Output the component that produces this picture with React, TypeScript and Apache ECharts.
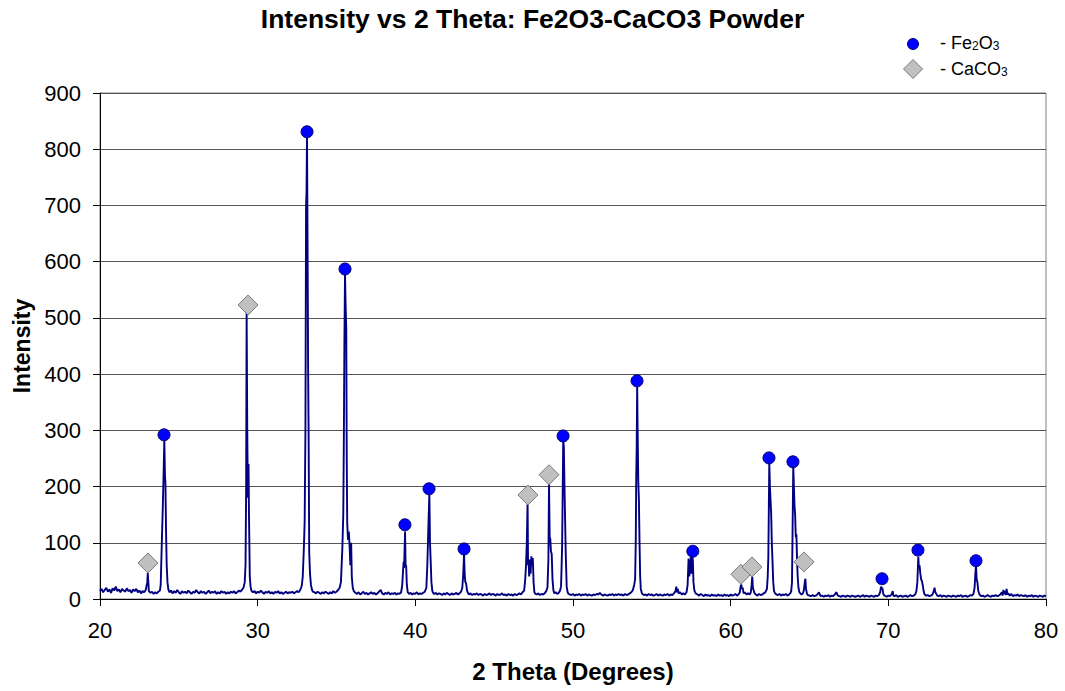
import React, { useEffect, useRef } from "react";
import * as echarts from "echarts";

// ---- Data (2θ in degrees, intensity) ----
const seg20to24: number[][] = [
  [20.0, 14], [20.1, 18], [20.2, 12], [20.3, 16], [20.4, 20], [20.5, 13], [20.6, 17], [20.7, 11], [20.8, 19], [20.9, 15],
  [21.0, 22], [21.1, 14], [21.2, 17], [21.3, 12], [21.4, 18], [21.5, 15], [21.6, 13], [21.7, 19], [21.8, 14], [21.9, 16],
  [22.0, 11], [22.1, 17], [22.2, 14], [22.3, 18], [22.4, 12], [22.5, 15], [22.6, 10], [22.7, 14], [22.8, 12], [22.9, 16],
  [23.0, 30], [23.03, 46], [23.07, 28], [23.1, 14], [23.2, 11], [23.3, 13], [23.4, 9], [23.5, 12], [23.6, 10], [23.7, 13],
  [23.8, 15], [23.85, 25], [23.92, 100], [23.98, 160], [24.04, 230], [24.08, 283], [24.12, 220], [24.15, 206], [24.19, 120],
  [24.23, 60], [24.28, 30], [24.33, 18], [24.4, 12],
];
const seg24to30: number[][] = [
  [24.5, 15], [24.6, 10], [24.7, 14], [24.8, 11], [24.9, 16], [25.0, 12], [25.1, 9], [25.2, 14], [25.3, 11], [25.4, 13],
  [25.5, 10], [25.6, 15], [25.7, 12], [25.8, 9], [25.9, 13], [26.0, 11], [26.1, 16], [26.2, 12], [26.3, 10], [26.4, 14],
  [26.5, 11], [26.6, 13], [26.7, 9], [26.8, 12], [26.9, 15], [27.0, 10], [27.1, 13], [27.2, 11], [27.3, 14], [27.4, 9],
  [27.5, 12], [27.6, 10], [27.7, 14], [27.8, 11], [27.9, 13], [28.0, 9], [28.1, 12], [28.2, 10], [28.3, 13], [28.4, 11],
  [28.5, 14], [28.6, 10], [28.7, 12], [28.8, 15], [28.9, 13], [29.0, 16], [29.1, 20], [29.18, 30], [29.23, 60], [29.27, 200],
  [29.3, 512], [29.34, 300], [29.38, 180], [29.42, 240], [29.45, 150], [29.5, 40], [29.55, 22], [29.6, 15],
];
const seg30to36: number[][] = [
  [29.7, 12], [29.8, 14], [29.9, 10], [30.0, 13], [30.1, 11], [30.2, 15], [30.3, 12], [30.4, 9], [30.5, 13], [30.6, 11],
  [30.7, 14], [30.8, 10], [30.9, 12], [31.0, 9], [31.1, 13], [31.2, 11], [31.3, 14], [31.4, 10], [31.5, 12], [31.6, 9],
  [31.7, 11], [31.8, 13], [31.9, 10], [32.0, 12], [32.1, 11], [32.2, 13], [32.3, 10], [32.4, 12], [32.5, 14], [32.6, 12],
  [32.7, 16], [32.8, 24], [32.86, 40], [32.93, 90], [32.98, 137], [33.03, 300], [33.07, 700], [33.1, 725], [33.13, 822],
  [33.17, 600], [33.2, 410], [33.23, 300], [33.27, 82], [33.32, 45], [33.38, 25], [33.45, 16], [33.5, 13],
  [33.6, 12], [33.7, 10], [33.8, 13], [33.9, 11], [34.0, 9], [34.1, 12], [34.2, 10], [34.3, 13], [34.4, 11], [34.5, 9],
  [34.6, 12], [34.7, 10], [34.8, 14], [34.9, 11], [35.0, 13], [35.1, 16], [35.2, 20], [35.28, 30], [35.37, 89], [35.43, 150],
  [35.47, 300], [35.5, 450], [35.54, 578], [35.58, 520], [35.62, 480], [35.65, 250], [35.68, 135], [35.73, 105], [35.78, 120],
  [35.83, 95], [35.88, 60], [35.93, 100], [35.97, 40], [36.03, 20], [36.1, 14],
];
const seg36to43: number[][] = [
  [36.2, 11], [36.3, 9], [36.4, 12], [36.5, 8], [36.6, 10], [36.7, 13], [36.8, 9], [36.9, 11], [37.0, 8], [37.1, 10],
  [37.2, 12], [37.3, 9], [37.4, 11], [37.5, 8], [37.6, 10], [37.7, 13], [37.8, 16], [37.9, 10], [38.0, 8], [38.1, 11],
  [38.2, 9], [38.3, 12], [38.4, 8], [38.5, 10], [38.6, 9], [38.7, 11], [38.8, 8], [38.9, 10], [39.0, 9], [39.1, 12],
  [39.17, 25], [39.22, 50], [39.26, 66], [39.29, 55], [39.32, 90], [39.35, 120], [39.38, 62], [39.42, 58], [39.46, 25],
  [39.52, 12], [39.6, 9], [39.7, 11], [39.8, 8], [39.9, 10], [40.0, 9], [40.1, 12], [40.2, 8], [40.3, 10], [40.4, 9],
  [40.5, 11], [40.6, 13], [40.7, 20], [40.76, 60], [40.81, 110], [40.85, 150], [40.89, 188], [40.93, 100], [40.97, 70],
  [41.02, 30], [41.08, 14], [41.15, 10], [41.2, 9], [41.3, 11], [41.4, 8], [41.5, 10], [41.6, 9], [41.7, 7], [41.8, 10],
  [41.9, 8], [42.0, 11], [42.1, 9], [42.2, 7], [42.3, 10], [42.4, 8], [42.5, 9], [42.6, 11], [42.7, 8], [42.8, 10],
  [42.9, 13], [42.98, 20], [43.04, 45], [43.09, 80], [43.13, 45], [43.17, 30], [43.22, 28], [43.28, 15], [43.35, 10],
];
const seg43to50: number[][] = [
  [43.4, 8], [43.5, 10], [43.6, 7], [43.7, 9], [43.8, 8], [43.9, 10], [44.0, 7], [44.1, 9], [44.2, 8], [44.3, 6],
  [44.4, 9], [44.5, 7], [44.6, 8], [44.7, 10], [44.8, 7], [44.9, 9], [45.0, 8], [45.1, 6], [45.2, 9], [45.3, 7],
  [45.4, 8], [45.5, 10], [45.6, 7], [45.7, 8], [45.8, 6], [45.9, 9], [46.0, 7], [46.1, 8], [46.2, 6], [46.3, 9],
  [46.4, 7], [46.5, 8], [46.6, 10], [46.7, 8], [46.8, 12], [46.9, 15], [46.97, 35], [47.02, 60], [47.07, 100], [47.12, 172],
  [47.15, 60], [47.18, 70], [47.22, 40], [47.27, 70], [47.31, 45], [47.36, 76], [47.41, 60], [47.45, 73], [47.5, 30],
  [47.55, 12], [47.62, 9], [47.7, 8], [47.8, 10], [47.9, 7], [48.0, 9], [48.1, 8], [48.2, 10], [48.3, 14], [48.38, 20],
  [48.44, 70], [48.48, 205], [48.52, 110], [48.56, 107], [48.6, 85], [48.65, 80], [48.7, 35], [48.76, 15], [48.82, 10],
  [48.9, 12], [49.0, 9], [49.1, 11], [49.18, 15], [49.24, 22], [49.28, 60], [49.31, 95], [49.35, 200], [49.38, 282],
  [49.42, 270], [49.46, 200], [49.5, 140], [49.54, 80], [49.6, 22], [49.66, 12], [49.72, 9],
];
const seg50to57: number[][] = [
  [49.8, 8], [49.9, 7], [50.0, 9], [50.1, 6], [50.2, 8], [50.3, 7], [50.4, 9], [50.5, 6], [50.6, 8], [50.7, 7],
  [50.8, 9], [50.9, 6], [51.0, 8], [51.1, 7], [51.2, 6], [51.3, 8], [51.4, 7], [51.5, 9], [51.6, 8], [51.7, 11],
  [51.8, 8], [51.9, 6], [52.0, 8], [52.1, 7], [52.2, 6], [52.3, 8], [52.4, 7], [52.5, 9], [52.6, 6], [52.7, 8],
  [52.8, 7], [52.9, 9], [53.0, 7], [53.1, 8], [53.2, 6], [53.3, 9], [53.4, 7], [53.5, 8], [53.6, 10], [53.7, 12],
  [53.8, 16], [53.88, 25], [53.94, 35], [53.98, 100], [54.01, 215], [54.04, 270], [54.07, 378], [54.1, 300], [54.14, 210],
  [54.18, 176], [54.22, 100], [54.26, 40], [54.3, 18], [54.36, 11], [54.4, 9], [54.5, 7], [54.6, 8], [54.7, 6], [54.8, 9],
  [54.9, 7], [55.0, 8], [55.1, 6], [55.2, 7], [55.3, 9], [55.4, 6], [55.5, 8], [55.6, 7], [55.7, 6], [55.8, 8],
  [55.9, 7], [56.0, 9], [56.1, 6], [56.2, 8], [56.3, 7], [56.4, 10], [56.5, 14], [56.55, 22], [56.6, 12], [56.65, 18],
  [56.7, 10], [56.8, 12], [56.9, 8], [57.0, 10], [57.1, 8], [57.2, 12], [57.27, 25], [57.33, 72], [57.38, 40], [57.43, 60],
  [57.48, 75], [57.52, 45], [57.56, 76], [57.6, 70], [57.64, 30], [57.7, 15], [57.78, 10],
];
const seg58to65: number[][] = [
  [57.9, 8], [58.0, 6], [58.1, 9], [58.2, 7], [58.3, 5], [58.4, 8], [58.5, 6], [58.6, 7], [58.7, 5], [58.8, 8],
  [58.9, 6], [59.0, 7], [59.1, 5], [59.2, 8], [59.3, 6], [59.4, 7], [59.5, 5], [59.6, 8], [59.7, 6], [59.8, 7],
  [59.9, 5], [60.0, 8], [60.1, 6], [60.2, 7], [60.3, 9], [60.4, 6], [60.5, 8], [60.58, 12], [60.63, 22], [60.67, 26],
  [60.71, 18], [60.76, 20], [60.82, 10], [60.9, 12], [61.0, 8], [61.1, 10], [61.2, 8], [61.28, 12], [61.33, 25], [61.37, 40],
  [61.41, 20], [61.46, 15], [61.52, 10], [61.6, 8], [61.7, 6], [61.8, 9], [61.9, 7], [62.0, 8], [62.1, 10], [62.2, 12],
  [62.3, 18], [62.35, 40], [62.39, 75], [62.42, 160], [62.45, 242], [62.49, 200], [62.53, 175], [62.57, 150], [62.61, 100],
  [62.65, 70], [62.7, 30], [62.75, 14], [62.82, 10], [62.9, 8], [63.0, 7], [63.1, 9], [63.2, 6], [63.3, 8], [63.4, 7],
  [63.5, 9], [63.6, 6], [63.7, 8], [63.78, 10], [63.84, 14], [63.89, 30], [63.93, 130], [63.97, 235], [64.01, 200],
  [64.05, 165], [64.09, 150], [64.13, 110], [64.17, 115], [64.21, 70], [64.25, 40], [64.3, 20], [64.36, 12], [64.42, 10],
  [64.5, 8], [64.58, 10], [64.64, 15], [64.7, 30], [64.74, 36], [64.78, 18], [64.84, 9], [64.9, 7], [65.0, 6],
];
const seg65to72: number[][] = [
  [65.1, 5], [65.2, 7], [65.3, 5], [65.4, 6], [65.5, 8], [65.6, 12], [65.7, 5], [65.8, 6], [65.9, 4], [66.0, 6],
  [66.1, 5], [66.2, 7], [66.3, 4], [66.4, 6], [66.5, 5], [66.6, 8], [66.7, 12], [66.8, 6], [66.9, 5], [67.0, 4],
  [67.1, 6], [67.2, 5], [67.3, 4], [67.4, 6], [67.5, 5], [67.6, 4], [67.7, 6], [67.8, 5], [67.9, 4], [68.0, 5],
  [68.1, 6], [68.2, 4], [68.3, 5], [68.4, 7], [68.5, 4], [68.6, 6], [68.7, 5], [68.8, 4], [68.9, 6], [69.0, 5],
  [69.1, 4], [69.2, 6], [69.3, 5], [69.4, 7], [69.48, 12], [69.54, 22], [69.58, 18], [69.62, 20], [69.68, 9], [69.75, 6],
  [69.85, 5], [69.9, 4], [70.0, 6], [70.1, 5], [70.2, 8], [70.28, 14], [70.32, 6], [70.4, 5], [70.5, 7], [70.6, 4],
  [70.7, 5], [70.8, 6], [70.9, 4], [71.0, 5], [71.1, 6], [71.2, 4], [71.3, 5], [71.4, 7], [71.5, 5], [71.6, 6],
  [71.7, 8], [71.78, 14], [71.84, 30], [71.9, 75], [71.94, 55], [71.98, 60], [72.03, 45], [72.08, 35], [72.13, 32],
  [72.18, 25], [72.24, 14], [72.3, 8],
];
const seg72to80: number[][] = [
  [72.4, 6], [72.5, 7], [72.6, 5], [72.7, 6], [72.8, 8], [72.88, 14], [72.93, 20], [72.98, 12], [73.05, 9], [73.1, 6],
  [73.2, 5], [73.3, 7], [73.4, 4], [73.5, 6], [73.6, 5], [73.7, 4], [73.8, 6], [73.9, 5], [74.0, 4], [74.1, 6],
  [74.2, 5], [74.3, 4], [74.4, 6], [74.5, 5], [74.6, 7], [74.7, 4], [74.8, 5], [74.9, 6], [75.0, 4], [75.1, 5],
  [75.2, 7], [75.3, 6], [75.4, 9], [75.47, 20], [75.52, 45], [75.56, 60], [75.6, 35], [75.65, 30], [75.7, 15], [75.78, 8],
  [75.85, 6], [75.9, 5], [76.0, 6], [76.1, 4], [76.2, 5], [76.3, 7], [76.4, 5], [76.5, 4], [76.6, 6], [76.7, 5],
  [76.8, 7], [76.9, 5], [77.0, 6], [77.1, 8], [77.2, 12], [77.25, 6], [77.3, 16], [77.35, 9], [77.4, 14], [77.45, 7],
  [77.5, 18], [77.55, 8], [77.6, 10], [77.7, 6], [77.8, 9], [77.9, 5], [78.0, 7], [78.1, 6], [78.2, 8], [78.3, 5],
  [78.4, 7], [78.5, 6], [78.6, 5], [78.7, 7], [78.8, 4], [78.9, 6], [79.0, 5], [79.1, 7], [79.2, 4], [79.3, 6],
  [79.4, 5], [79.5, 4], [79.6, 6], [79.7, 5], [79.8, 4], [79.9, 6], [80.0, 5],
];

const fe2o3Peaks: number[][] = [
  [24.06, 292], [33.13, 831], [35.54, 587], [39.34, 132], [40.87, 196], [43.09, 89], [49.37, 290],
  [54.06, 388], [57.6, 85], [62.43, 251], [63.95, 244], [69.6, 36], [71.88, 87], [75.56, 68],
];
const caco3Peaks: number[][] = [
  [23.04, 64], [29.39, 523], [47.14, 185], [48.48, 221], [60.65, 44], [61.35, 57], [64.65, 66],
];

const xTicks = { min: 20, max: 80, interval: 10 };
const yTicks = { min: 0, max: 900, interval: 100 };

const titleText = "Intensity vs 2 Theta: Fe2O3-CaCO3 Powder";
const xAxisTitle = "2 Theta (Degrees)";
const yAxisTitle = "Intensity";

const FONT = "Arial, 'Liberation Sans', Helvetica, sans-serif";

export default function App() {
  const ref = useRef<HTMLDivElement>(null);

  useEffect(() => {
    if (!ref.current) return;
    const chart = echarts.init(ref.current, null, { renderer: "svg" });
    const spectrum = [
      ...seg20to24, ...seg24to30, ...seg30to36, ...seg36to43, ...seg43to50,
      ...seg50to57, ...seg58to65, ...seg65to72, ...seg72to80,
    ];
    const legendRich = {
      n: { fontSize: 18, fontFamily: FONT, color: "#000", lineHeight: 20, verticalAlign: "bottom" },
      s: { fontSize: 12, fontFamily: FONT, color: "#000", lineHeight: 14, verticalAlign: "bottom" },
    };
    chart.setOption({
      animation: false,
      backgroundColor: "#ffffff",
      title: {
        text: titleText,
        left: "center",
        top: 0,
        textStyle: { fontFamily: FONT, fontSize: 26.5, fontWeight: "bold", color: "#000" },
      },
      grid: {
        left: 100, right: 19, top: 93, bottom: 92,
        show: true, borderColor: "#808080", borderWidth: 1, backgroundColor: "#fff",
      },
      xAxis: {
        type: "value",
        min: xTicks.min, max: xTicks.max, interval: xTicks.interval,
        name: xAxisTitle,
        nameLocation: "middle",
        nameGap: 60,
        nameTextStyle: { fontFamily: FONT, fontSize: 24, fontWeight: "bold", color: "#000" },
        axisLine: { show: true, onZero: false, lineStyle: { color: "#000", width: 1 } },
        axisTick: { show: true, inside: false, length: 7, lineStyle: { color: "#000" } },
        axisLabel: { fontFamily: FONT, fontSize: 22, color: "#000", margin: 20 },
        splitLine: { show: false },
      },
      yAxis: {
        type: "value",
        min: yTicks.min, max: yTicks.max, interval: yTicks.interval,
        name: yAxisTitle,
        nameLocation: "middle",
        nameGap: 66,
        nameRotate: 90,
        nameTextStyle: { fontFamily: FONT, fontSize: 23, fontWeight: "bold", color: "#000" },
        axisLine: { show: true, lineStyle: { color: "#000", width: 1 } },
        axisTick: { show: true, inside: false, length: 7, lineStyle: { color: "#000" } },
        axisLabel: { fontFamily: FONT, fontSize: 22, color: "#000", margin: 19 },
        splitLine: { show: true, lineStyle: { color: "#555", width: 1 } },
      },
      series: [
        {
          name: "Spectrum",
          type: "line",
          data: spectrum,
          showSymbol: false,
          symbol: "none",
          lineStyle: { color: "#000080", width: 1.9 },
          z: 2,
        },
        {
          name: "Fe2O3",
          type: "scatter",
          data: fe2o3Peaks,
          symbol: "circle",
          symbolSize: 12,
          itemStyle: { color: "#0000ff", borderColor: "#00006e", borderWidth: 1, opacity: 1 },
          z: 4,
        },
        {
          name: "CaCO3",
          type: "scatter",
          data: caco3Peaks,
          symbol: "diamond",
          symbolSize: 20,
          itemStyle: { color: "#c0c0c0", borderColor: "#7a7a7a", borderWidth: 1, opacity: 1 },
          z: 3,
        },
      ],
      graphic: [
        {
          type: "circle",
          shape: { cx: 913, cy: 44, r: 5.5 },
          style: { fill: "#0000ff", stroke: "#00006e", lineWidth: 1 },
        },
        {
          type: "polygon",
          shape: { points: [[913, 59.5], [922.5, 69], [913, 78.5], [903.5, 69]] },
          style: { fill: "#c0c0c0", stroke: "#7a7a7a", lineWidth: 1 },
        },
        {
          type: "text",
          x: 940,
          y: 52,
          style: {
            text: "{n|- Fe}{s|2}{n|O}{s|3}",
            rich: legendRich,
            verticalAlign: "bottom",
            align: "left",
          },
        },
        {
          type: "text",
          x: 940,
          y: 78,
          style: {
            text: "{n|- CaCO}{s|3}",
            rich: legendRich,
            verticalAlign: "bottom",
            align: "left",
          },
        },
      ],
    });
    return () => chart.dispose();
  }, []);

  return (
    <div
      ref={ref}
      style={{ position: "absolute", left: 0, top: 0, width: 1065, height: 691, background: "#fff" }}
    />
  );
}
